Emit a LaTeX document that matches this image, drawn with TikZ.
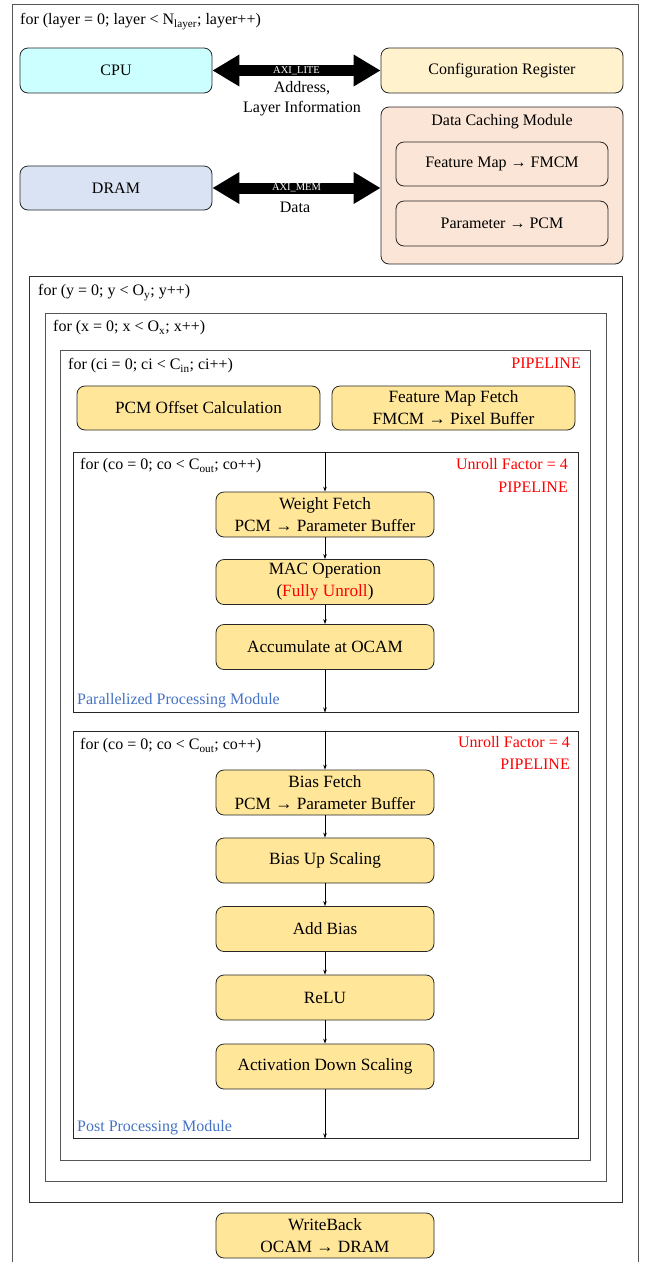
\documentclass[tikz,border=0pt]{standalone}
\usepackage{fontspec}
\setmainfont{Liberation Serif}
\usetikzlibrary{arrows.meta,calc}

\definecolor{cpufill}{HTML}{CCFFFF}
\definecolor{cfgfill}{HTML}{FFF2CC}
\definecolor{dcmfill}{HTML}{FBE5D6}
\definecolor{dramfill}{HTML}{DAE3F3}
\definecolor{stepfill}{HTML}{FFE699}
\definecolor{modblue}{HTML}{4472C4}
\definecolor{framegray}{HTML}{555555}

\begin{document}
\begin{tikzpicture}[x=1pt,y=-1pt,
  txt/.style={font=\fontsize{16}{20}\selectfont},
  box/.style={txt, draw=black!85, line width=0.8pt, rounded corners=8pt,
    align=center, inner sep=0pt},
  stepbox/.style={box, fill=stepfill, minimum width=218pt, minimum height=45pt,
    font=\fontsize{17.2}{22}\selectfont},
  loopbox/.style={draw=framegray, line width=1pt, inner sep=0pt},
  lbl/.style={txt, anchor=west, inner sep=0pt, yshift=-1.8pt},
  pragma/.style={txt, anchor=east, inner sep=0pt, text=red, yshift=-1pt},
  modlbl/.style={txt, anchor=west, inner sep=0pt, text=modblue, yshift=-2pt},
  bus/.style={line width=11pt,
    {Triangle[length=27pt,width=30pt]}-{Triangle[length=27pt,width=30pt]}},
  buslbl/.style={font=\fontsize{10.5}{11}\selectfont, text=white, inner sep=0pt},
  flow/.style={-{Stealth[length=5pt,width=3.5pt]}, line width=0.6pt}
]
\useasboundingbox (0,0) rectangle (645,1262);

% outermost layer loop (open towards the bottom)
\draw[framegray, line width=1pt] (12,1262) -- (12,4) -- (638,4) -- (638,1262);
\node[lbl] (layerlbl) at (20,20) {for (layer = 0; layer < N\textsubscript{layer}; layer++)};

% host side and configuration
\node[box, fill=cpufill, minimum width=192pt, minimum height=45pt] (cpu) at (116,70.5) {CPU};
\node[box, fill=cfgfill, minimum width=242pt, minimum height=45pt] (cfg) at (502,70.5) {Configuration Register};
\node[box, fill=dramfill, minimum width=192pt, minimum height=44pt] (dram) at (116,188) {DRAM};

% data caching module
\node[box, fill=dcmfill, minimum width=242pt, minimum height=157pt] (dcm) at (502,185.5) {};
\node[txt, inner sep=0pt] (dcmlbl) at (502,122) {Data Caching Module};
\node[box, fill=dcmfill, minimum width=212pt, minimum height=44pt] (fm) at (502,164) {Feature Map → FMCM};
\node[box, fill=dcmfill, minimum width=212pt, minimum height=45pt] (par) at (502,223.5) {Parameter → PCM};

% AXI buses
\draw[bus] (cpu.east) -- (cfg.west) node[buslbl, midway] (axilite) {AXI\_LITE};
\node[txt, align=center, inner sep=0pt] (axilitelbl) at (302,98.5)
  {\baselineskip=19pt Address,\\Layer Information};
\draw[bus] (dram.east) -- (dram.east -| dcm.west) node[buslbl, midway] (aximem) {AXI\_MEM};
\node[txt, inner sep=0pt] (aximemlbl) at (295,207) {Data};

% nested loops
\node[loopbox, draw=black!80, minimum width=593pt, minimum height=926pt] (yloop) at (325.5,739) {};
\node[lbl] (ylbl) at (38,291) {for (y = 0; y < O\textsubscript{y}; y++)};
\node[loopbox, minimum width=561pt, minimum height=868pt] (xloop) at (325.5,747) {};
\node[lbl] (xlbl) at (53,326) {for (x = 0; x < O\textsubscript{x}; x++)};
\node[loopbox, minimum width=530pt, minimum height=810pt] (ciloop) at (325,755) {};
\node[lbl] (cilbl) at (68,364) {for (ci = 0; ci < C\textsubscript{in}; ci++)};
\node[pragma] (cipipe) at (581,362) {PIPELINE};

\node[stepbox, minimum width=243pt, minimum height=44pt] (pcm) at (198.5,408) {PCM Offset Calculation};
\node[stepbox, minimum width=243pt, minimum height=44pt] (fmf) at (453.5,408)
  {Feature Map Fetch\\FMCM → Pixel Buffer};

% parallelized processing module
\node[loopbox, draw=black!85, minimum width=505pt, minimum height=260pt] (co1) at (325.5,582) {};
\node[lbl] (co1lbl) at (80,464) {for (co = 0; co < C\textsubscript{out}; co++)};
\node[pragma] (co1unroll) at (568,463) {Unroll Factor = 4};
\node[pragma] (co1pipe) at (568,486) {PIPELINE};
\node[stepbox] (wf) at (325,514.5) {Weight Fetch\\PCM → Parameter Buffer};
\node[stepbox] (mac) at (325,582) {MAC Operation\\(\textcolor{red}{Fully Unroll})};
\node[stepbox] (acc) at (325,647) {Accumulate at OCAM};
\node[modlbl] (ppmlbl) at (77,699) {Parallelized Processing Module};

\draw[flow] (co1.north -| wf.north) -- (wf.north);
\draw[flow] (wf) -- (mac);
\draw[flow] (mac) -- (acc);
\draw[flow] (acc.south) -- (acc.south |- co1.south);

% post processing module
\node[loopbox, draw=black!85, minimum width=505pt, minimum height=407pt] (co2) at (325.5,934.5) {};
\node[lbl] (co2lbl) at (80,744) {for (co = 0; co < C\textsubscript{out}; co++)};
\node[pragma] (co2unroll) at (570,741) {Unroll Factor = 4};
\node[pragma] (co2pipe) at (570,763) {PIPELINE};
\node[stepbox] (bf) at (325,792.5) {Bias Fetch\\PCM → Parameter Buffer};
\node[stepbox] (bus) at (325,860.5) {Bias Up Scaling};
\node[stepbox] (ab) at (325,929) {Add Bias};
\node[stepbox] (relu) at (325,997.5) {ReLU};
\node[stepbox] (ads) at (325,1066.5) {Activation Down Scaling};
\node[modlbl] (postlbl) at (77,1126) {Post Processing Module};

\draw[flow] (co2.north -| bf.north) -- (bf.north);
\draw[flow] (bf) -- (bus);
\draw[flow] (bus) -- (ab);
\draw[flow] (ab) -- (relu);
\draw[flow] (relu) -- (ads);
\draw[flow] (ads.south) -- (ads.south |- co2.south);

% write back
\node[stepbox] (wb) at (325,1235.5) {WriteBack\\OCAM → DRAM};
\end{tikzpicture}
\end{document}
